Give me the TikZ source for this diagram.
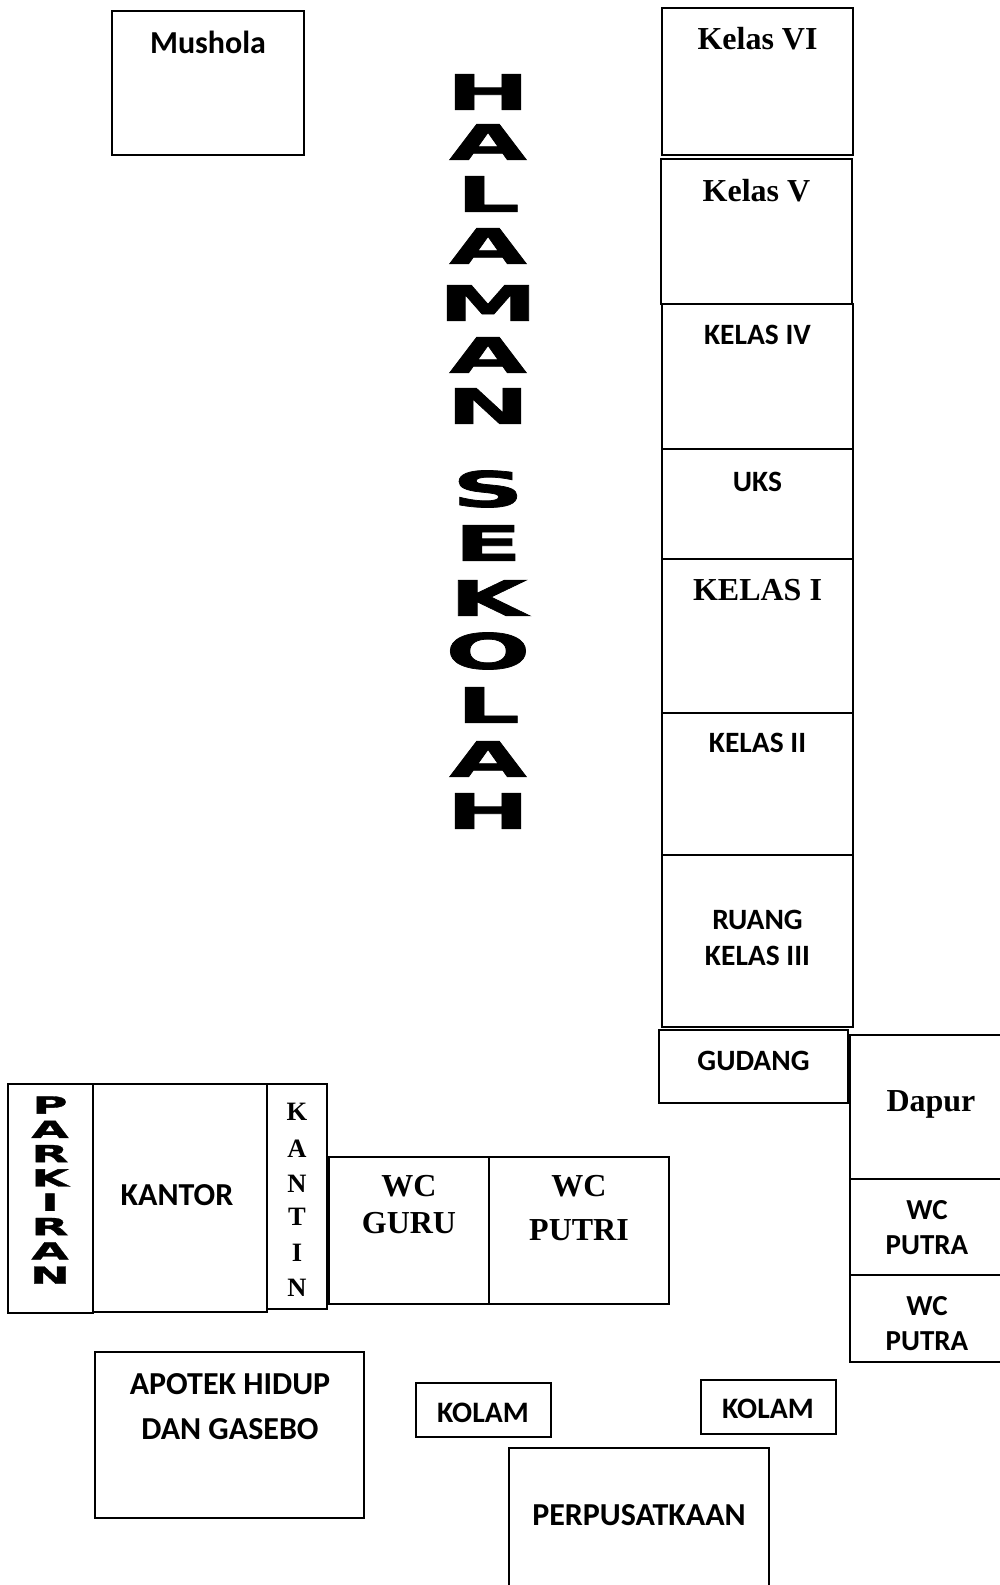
\documentclass[tikz,border=0pt]{standalone}
\usepackage{fontspec}
\newfontfamily\calfont{Carlito}
\newfontfamily\timesfont{Liberation Serif}
\newfontfamily\heavyfont[FakeStretch=2.05,FakeBold=1.5]{DejaVu Sans}
\begin{document}
\begin{tikzpicture}[x=1pt,y=-1pt,
  room/.style={draw,line width=1.8pt},
  cb/.style={font=\calfont\bfseries\fontsize{#1}{#1}\selectfont, anchor=base, inner sep=0pt},
  tb/.style={font=\timesfont\bfseries\fontsize{#1}{#1}\selectfont, anchor=base, inner sep=0pt},
  big/.style={font=\heavyfont\bfseries\fontsize{#1}{#1}\selectfont, anchor=center, inner sep=0pt}]
\useasboundingbox[fill=white] (0,0) rectangle (999,1585);

% rooms
\draw[room] (112,11) rectangle (304,155);      % Mushola
\draw[room] (662,8) rectangle (853,155);       % Kelas VI
\draw[room] (661,159) rectangle (852,304);     % Kelas V
\draw[room] (662,304) rectangle (853,449);     % Kelas IV
\draw[room] (662,449) rectangle (853,559);     % UKS
\draw[room] (662,559) rectangle (853,713);     % Kelas I
\draw[room] (662,713) rectangle (853,855);     % Kelas II
\draw[room] (662,855) rectangle (853,1027);    % Kelas III
\draw[room] (659,1030) rectangle (848,1103);   % Gudang
\draw[room] (850,1035) rectangle (1010,1179);  % Dapur
\draw[room] (850,1179) rectangle (1010,1275);  % WC Putra
\draw[room] (850,1275) rectangle (1010,1362);  % WC Putra
\draw[room] (8,1084) rectangle (93,1313);      % Parkiran
\draw[room] (93,1084) rectangle (267,1312);    % Kantor
\draw[room] (267,1084) rectangle (327,1309);   % Kantin
\draw[room] (329,1157) rectangle (489,1304);   % WC Guru
\draw[room] (489,1157) rectangle (669,1304);   % WC Putri
\draw[room] (95,1352) rectangle (364,1518);    % Apotek
\draw[room] (416,1383) rectangle (551,1437);   % Kolam
\draw[room] (701,1380) rectangle (836,1434);   % Kolam
\draw[room] (509,1448) rectangle (769,1600);   % Perpustakaan

% labels
\node[cb=32] (mushola) at (208,53) {Mushola};
\node[tb=32] (k6) at (757.5,49) {Kelas VI};
\node[tb=32] (k5) at (756.5,201) {Kelas V};
\node[cb=29.5] (k4) at (757.5,344) {KELAS IV};
\node[cb=29.5] (uks) at (757.5,491) {UKS};
\node[tb=32] (k1) at (757.5,600) {KELAS I};
\node[cb=29.5] (k2) at (757.5,752) {KELAS II};
\node[cb=29.5] (k3a) at (757.5,929) {RUANG};
\node[cb=29.5] (k3b) at (757.5,965) {KELAS III};
\node[cb=29.5] (gudang) at (753.5,1070) {GUDANG};
\node[tb=32] (dapur) at (931,1111) {Dapur};
\node[cb=29] (wcpa1) at (927,1219) {WC};
\node[cb=29] (wcpa2) at (927,1254) {PUTRA};
\node[cb=29] (wcpb1) at (927,1315) {WC};
\node[cb=29] (wcpb2) at (927,1350) {PUTRA};
\node[cb=32] (kantor) at (177,1205) {KANTOR};
\foreach \l/\y [count=\i] in {K/1112,A/1149,N/1184,T/1217,I/1253,N/1288}
  \node[tb=26.5] (kantin\i) at (297,\y+8.6) {\l};
\node[tb=32] (wcg1) at (409,1196) {WC};
\node[tb=32] (wcg2) at (409,1233) {GURU};
\node[tb=32] (wcp1) at (579,1196) {WC};
\node[tb=32] (wcp2) at (579,1240) {PUTRI};
\node[cb=32] (apotek1) at (230,1394) {APOTEK HIDUP};
\node[cb=32] (apotek2) at (230,1439) {DAN GASEBO};
\node[cb=29.7] (kolam1) at (483,1422) {KOLAM};
\node[cb=29.7] (kolam2) at (768,1418) {KOLAM};
\node[cb=32] (perpus) at (639,1525) {PERPUSATKAAN};

% HALAMAN SEKOLAH
\foreach \l/\y [count=\i] in {H/92,A/142,L/194,A/246,M/303,A/355,N/406,S/489,E/543,K/598,O/651,L/705,A/759,H/811}
  \node[big=49] (hal\i) at (488,\y) {\l};
% PARKIRAN
\foreach \l [count=\i] in {P,A,R,K,I,R,A,N}
  \node[big=23.5] (park\i) at (50,1105+24.3*\i-24.3) {\l};
\end{tikzpicture}
\end{document}
